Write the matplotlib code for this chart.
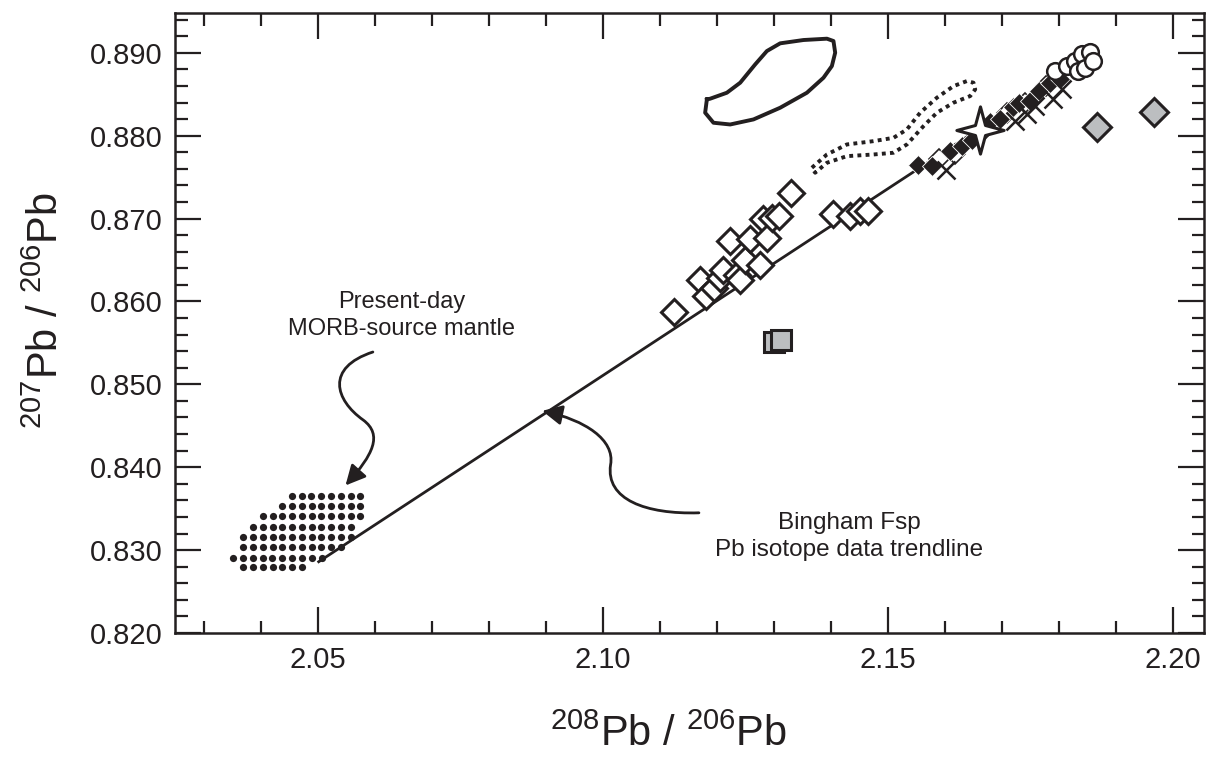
import numpy as np
import matplotlib
matplotlib.use('Agg')
import matplotlib.pyplot as plt
from matplotlib.path import Path
from matplotlib.patches import FancyArrowPatch
from matplotlib.ticker import MultipleLocator, FormatStrFormatter

plt.rcParams['font.family'] = ['Liberation Sans', 'DejaVu Sans']
plt.rcParams['mathtext.fontset'] = 'custom'
plt.rcParams['mathtext.rm'] = 'Liberation Sans'
plt.rcParams['mathtext.it'] = 'Liberation Sans:italic'

INK = '#231f20'
GREY = '#bcbec0'

# ---- data (208Pb/206Pb, 207Pb/206Pb) ----
open_dia_x = [2.1125, 2.1170, 2.1181, 2.1194, 2.1205, 2.1211, 2.1223, 2.1235, 2.1240, 2.1249,
              2.1258, 2.1275, 2.1281, 2.1287, 2.1296, 2.1308, 2.1329, 2.1404, 2.1433, 2.1451, 2.1465]
open_dia_y = [0.8587, 0.8626, 0.8606, 0.8616, 0.8628, 0.8638, 0.8673, 0.8632, 0.8626, 0.8650,
              0.8675, 0.8644, 0.8699, 0.8677, 0.8701, 0.8703, 0.8731, 0.8705, 0.8703, 0.8709, 0.8709]

black_dia_x = [2.1553, 2.1577, 2.1609, 2.1629, 2.1647, 2.1679, 2.1696, 2.1719, 2.1729,
               2.1749, 2.1764, 2.1784, 2.1802]
black_dia_y = [0.8765, 0.8763, 0.8781, 0.8787, 0.8795, 0.8816, 0.8820, 0.8834, 0.8840,
               0.8842, 0.8854, 0.8864, 0.8868]

small_open_x = [2.1590, 2.1618, 2.1662, 2.1708, 2.1740, 2.1776]
small_open_y = [0.8772, 0.8778, 0.8803, 0.8827, 0.8840, 0.8860]

cross_x = [2.1602, 2.1723, 2.1743, 2.1758, 2.1789, 2.1805]
cross_y = [0.8759, 0.8818, 0.8826, 0.8836, 0.8844, 0.8856]

circle_x = [2.1793, 2.1813, 2.1828, 2.1833, 2.1840, 2.1846, 2.1854, 2.1860]
circle_y = [0.8878, 0.8884, 0.8890, 0.8878, 0.8898, 0.8882, 0.8901, 0.8890]

grey_dia_x = [2.1866, 2.1967]
grey_dia_y = [0.8811, 0.8829]

grey_sq_x = [2.1299, 2.1312]
grey_sq_y = [0.8551, 0.8553]

star_x = [2.1661]
star_y = [0.8807]

trend_x = [2.0501, 2.1830]
trend_y = [0.8286, 0.8885]

solid_field_x = [2.11819, 2.11789, 2.11935, 2.12228, 2.12637, 2.13105, 2.13574, 2.13865, 2.14012,
                 2.14070, 2.14040, 2.13925, 2.13514, 2.13105, 2.12872, 2.12667, 2.12404, 2.12170,
                 2.11877, 2.11819]
solid_field_y = [0.88437, 0.88277, 0.88156, 0.88135, 0.88196, 0.88337, 0.88518, 0.88699, 0.88840,
                 0.89001, 0.89142, 0.89170, 0.89154, 0.89114, 0.89021, 0.88860, 0.88639, 0.88518,
                 0.88446, 0.88437]

dotted_field_x = [2.13661, 2.13925, 2.14275, 2.14742, 2.15093, 2.15328, 2.15561, 2.15854, 2.16146,
                  2.16381, 2.16496, 2.16526, 2.16439, 2.16146, 2.15854, 2.15619, 2.15328, 2.15093,
                  2.14742, 2.14275, 2.13925, 2.13719, 2.13661]
dotted_field_y = [0.87613, 0.87773, 0.87894, 0.87934, 0.87974, 0.88075, 0.88277, 0.88458, 0.88598,
                  0.88659, 0.88639, 0.88558, 0.88478, 0.88398, 0.88277, 0.88115, 0.87894, 0.87794,
                  0.87773, 0.87753, 0.87673, 0.87553, 0.87613]

# MORB-source mantle field, dotted rows
morb_row_y = [0.8365, 0.8353, 0.8341, 0.8328, 0.8316, 0.8304, 0.8291, 0.8280]
morb_row_x0 = [2.0454, 2.0437, 2.0403, 2.0386, 2.0369, 2.0369, 2.0351, 2.0369]
morb_row_x1 = [2.0574, 2.0574, 2.0574, 2.0557, 2.0557, 2.0540, 2.0506, 2.0471]
morb_row_n = [8, 9, 11, 11, 12, 11, 10, 7]

# ---- figure ----
fig = plt.figure(figsize=(12.19, 7.60), dpi=100)
ax = fig.add_axes([0.1436, 0.1671, 0.8441, 0.8158])

dx, dy = [], []
for y, x0, x1, n in zip(morb_row_y, morb_row_x0, morb_row_x1, morb_row_n):
    xs = np.linspace(x0, x1, n)
    dx.extend(xs)
    dy.extend([y] * n)
ax.scatter(dx, dy, s=27, color=INK, linewidths=0, zorder=2)

ax.plot(dotted_field_x, dotted_field_y, color=INK, lw=2.8, linestyle=(0, (1, 1.1)),
        dash_capstyle='butt', zorder=2)
ax.plot(solid_field_x, solid_field_y, color=INK, lw=2.8, solid_joinstyle='round', zorder=2)

ax.plot(trend_x, trend_y, color=INK, lw=2.0, zorder=3)

ax.plot(open_dia_x, open_dia_y, 'D', ms=13, mfc='white', mec=INK, mew=2.2, ls='none', zorder=4)
ax.plot(grey_sq_x, grey_sq_y, 's', ms=14, mfc=GREY, mec=INK, mew=2.2, ls='none', zorder=4)

ax.plot(small_open_x, small_open_y, 'D', ms=10, mfc='white', mec=INK, mew=1.2, ls='none', zorder=5)
ax.plot(black_dia_x, black_dia_y, 'D', ms=10.5, mfc=INK, mec='white', mew=0.6, ls='none', zorder=6)
ax.plot(cross_x, cross_y, 'x', ms=13, mec=INK, mew=1.8, ls='none', zorder=6)

r = 0.3
star_verts = []
for k in range(4):
    a = np.pi / 2 + k * np.pi / 2
    star_verts.append((np.cos(a), np.sin(a)))
    b = a + np.pi / 4
    star_verts.append((r * np.cos(b), r * np.sin(b)))
star_verts.append(star_verts[0])
star_marker = Path(star_verts, closed=True)
ax.plot(star_x, star_y, marker=star_marker, ms=34, mfc='white', mec=INK, mew=2.2,
        ls='none', zorder=7)

ax.plot(circle_x, circle_y, 'o', ms=12, mfc='white', mec=INK, mew=1.8, ls='none', zorder=7)
ax.plot(grey_dia_x, grey_dia_y, 'D', ms=14, mfc=GREY, mec=INK, mew=2.2, ls='none', zorder=7)

# annotations
ax.text(2.0646, 0.8583, 'Present-day\nMORB-source mantle', ha='center', va='center',
        fontsize=17, color=INK, linespacing=1.3)
ax.text(2.1432, 0.8316, 'Bingham Fsp\nPb isotope data trendline', ha='center', va='center',
        fontsize=17.5, color=INK, linespacing=1.3)

codes = [Path.MOVETO, Path.CURVE4, Path.CURVE4, Path.CURVE4, Path.CURVE4, Path.CURVE4, Path.CURVE4]
morb_arrow = Path([(2.0596, 0.8539), (2.0512, 0.8520), (2.0530, 0.8481), (2.0579, 0.8457),
                   (2.0614, 0.8439), (2.0596, 0.8415), (2.0548, 0.8378)], codes)
ax.add_patch(FancyArrowPatch(path=morb_arrow, arrowstyle='-|>', mutation_scale=30,
                             lw=2.0, color=INK, zorder=8))
bing_arrow = Path([(2.1168, 0.8345), (2.1075, 0.8343), (2.1004, 0.8361), (2.1013, 0.8403),
                   (2.1021, 0.8433), (2.0968, 0.8457), (2.0893, 0.8468)], codes)
ax.add_patch(FancyArrowPatch(path=bing_arrow, arrowstyle='-|>', mutation_scale=30,
                             lw=2.0, color=INK, zorder=8))

# axes styling
ax.set_xlim(2.0249, 2.2054)
ax.set_ylim(0.820, 0.8948)
ax.xaxis.set_major_locator(MultipleLocator(0.05))
ax.xaxis.set_minor_locator(MultipleLocator(0.01))
ax.yaxis.set_major_locator(MultipleLocator(0.01))
ax.yaxis.set_minor_locator(MultipleLocator(0.002))
ax.xaxis.set_major_formatter(FormatStrFormatter('%.2f'))
ax.yaxis.set_major_formatter(FormatStrFormatter('%.3f'))
ax.tick_params(which='both', direction='in', top=True, right=True, width=1.6, color=INK,
               labelsize=21, labelcolor=INK)
ax.tick_params(which='major', length=19, pad=9)
ax.tick_params(which='minor', length=9)
for s in ax.spines.values():
    s.set_linewidth(1.8)
    s.set_color(INK)

ax.set_xlabel(r'$^{208}$Pb / $^{206}$Pb', fontsize=30, color=INK)
ax.set_ylabel(r'$^{207}$Pb / $^{206}$Pb', fontsize=30, color=INK)
ax.xaxis.set_label_coords(0.48, -0.132)
ax.yaxis.set_label_coords(-0.105, 0.52)

fig.savefig('out.png', dpi=100)
